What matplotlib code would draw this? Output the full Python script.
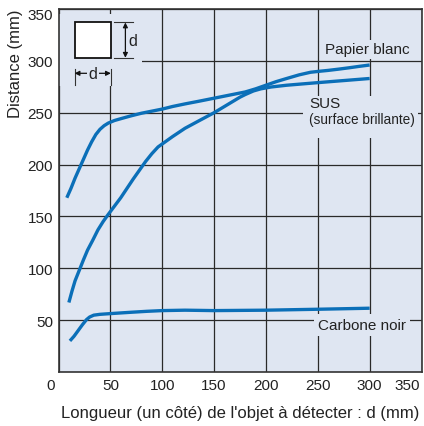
import matplotlib
matplotlib.use("Agg")
import matplotlib.pyplot as plt
from matplotlib.patches import Rectangle
import matplotlib.transforms as mtransforms

plt.rcParams['font.family'] = ['Liberation Sans', 'DejaVu Sans']

# Data
papier_x = [8, 12, 16, 20, 24, 28, 32, 36, 40, 44, 48, 54, 61, 70, 80, 90, 100, 110, 122, 135, 150,
            165, 180, 190, 200, 210, 220, 232, 243, 252, 260, 270, 280, 290, 300]
papier_y = [168, 177, 187, 196, 205, 214, 222, 229, 234, 237.5, 240, 242.5, 244.5, 247, 249.5, 251.5,
            253.5, 256, 258.5, 261, 264, 267, 270, 273, 276.5, 280, 283, 286.5, 289, 290, 290.8, 292,
            293.3, 294.7, 296]

sus_x = [10, 13, 16, 20, 24, 28, 33, 38, 43, 48, 54, 60, 72, 84, 90, 96, 103, 110, 122, 135, 150,
         165, 175, 180, 188, 195, 205, 220, 250, 275, 300]
sus_y = [67, 78, 88, 98, 108, 117.5, 127, 137, 145, 152, 160, 168, 186, 203, 210.5, 217, 222, 227,
         235, 242, 250, 259, 265, 267.5, 271, 273, 274.8, 276.5, 279, 281, 283]

carbone_x = [11, 15, 19, 23, 27, 30, 34, 40, 50, 70, 85, 100, 122, 150, 200, 250, 300]
carbone_y = [30, 34.5, 40, 45.5, 50.5, 53, 54.8, 55.6, 56.3, 57.6, 58.5, 59.2, 59.6, 59.2, 59.6, 60.5, 61.5]

xticks = [0, 50, 100, 150, 200, 250, 300, 350]
yticks = [50, 100, 150, 200, 250, 300, 350]

BG = '#dfe6f2'
BLUE = '#0b6fb8'
TXT = '#222222'

W, H = 424, 427
fig = plt.figure(figsize=(W / 100, H / 100), dpi=100)
ax = fig.add_axes([58.5 / W, 1 - 373 / H, (421.5 - 58.5) / W, (373 - 10) / H])
ax.set_facecolor(BG)
ax.set_xlim(0, 350)
ax.set_ylim(0, 350)
ax.set_xticks(xticks)
ax.set_yticks(yticks)
ax.set_xticklabels([str(v) for v in xticks])
ax.set_yticklabels([str(v) for v in yticks])
ax.grid(True, color='#2a2a2a', linewidth=0.9, zorder=1)
ax.set_axisbelow(True)
ax.tick_params(length=0, labelsize=11, colors=TXT, pad=4)
for s in ax.spines.values():
    s.set_color('#333333')
    s.set_linewidth(1.2)

# Shift first/last x tick labels like the reference
xl = ax.get_xticklabels()
xl[0].set_transform(xl[0].get_transform() + mtransforms.ScaledTranslation(-8 / 100, 0, fig.dpi_scale_trans))
xl[-1].set_transform(xl[-1].get_transform() + mtransforms.ScaledTranslation(-14 / 100, 0, fig.dpi_scale_trans))
yl = ax.get_yticklabels()
yl[-1].set_transform(yl[-1].get_transform() + mtransforms.ScaledTranslation(0, -5 / 100, fig.dpi_scale_trans))

ax.set_xlabel("Longueur (un côté) de l'objet à détecter : d (mm)", fontsize=12, color=TXT, labelpad=10)
ax.set_ylabel("Distance (mm)", fontsize=12, color=TXT, loc='top')
ax.yaxis.set_label_coords(-0.097, 1.0)

# Curves
for xs, ys in [(papier_x, papier_y), (sus_x, sus_y), (carbone_x, carbone_y)]:
    ax.plot(xs, ys, color=BLUE, linewidth=2.4, solid_capstyle='butt', solid_joinstyle='round', zorder=4)

# Inset region masking grid
ax.add_patch(Rectangle((0.5, 276), 80, 69, facecolor=BG, edgecolor='none', zorder=2))
# Square
ax.add_patch(Rectangle((15.5, 303), 35, 34, facecolor='white', edgecolor='#111111', linewidth=1.3, zorder=3))
# vertical dimension
ax.plot([53.5, 72], [337, 337], color='#333333', lw=0.8, zorder=3)
ax.plot([53.5, 72], [303, 303], color='#333333', lw=0.8, zorder=3)
ax.annotate('', xy=(64.5, 337), xytext=(64.5, 303),
            arrowprops=dict(arrowstyle='<|-|>', color='#111111', lw=0.9, mutation_scale=7, shrinkA=0, shrinkB=0), zorder=3)
ax.text(67, 320, 'd', fontsize=11.5, color=TXT, ha='left', va='center', zorder=3)
# horizontal dimension
ax.plot([15.5, 15.5], [277, 292], color='#333333', lw=0.8, zorder=3)
ax.plot([50.5, 50.5], [277, 292], color='#333333', lw=0.8, zorder=3)
ax.annotate('', xy=(15.5, 288), xytext=(50.5, 288),
            arrowprops=dict(arrowstyle='<|-|>', color='#111111', lw=0.9, mutation_scale=7, shrinkA=0, shrinkB=0), zorder=3)
ax.text(33, 288, 'd', fontsize=11.5, color=TXT, ha='center', va='center', zorder=4,
        bbox=dict(facecolor=BG, edgecolor='none', pad=1))

# Labels
ax.text(297.5, 311, 'Papier blanc', fontsize=11, color=TXT, ha='center', va='center', zorder=3,
        bbox=dict(facecolor=BG, edgecolor='none', pad=2))
ax.add_patch(Rectangle((236, 226), 111, 40, facecolor=BG, edgecolor='none', zorder=2))
ax.text(241.5, 259.5, 'SUS', fontsize=11, color=TXT, ha='left', va='center', zorder=3)
ax.text(241.5, 244, '(surface brillante)', fontsize=9.8, color=TXT, ha='left', va='center', zorder=3)
ax.text(292.5, 45, 'Carbone noir', fontsize=11, color=TXT, ha='center', va='center', zorder=3,
        bbox=dict(facecolor=BG, edgecolor='none', pad=3))

fig.savefig('out.png', dpi=100)
